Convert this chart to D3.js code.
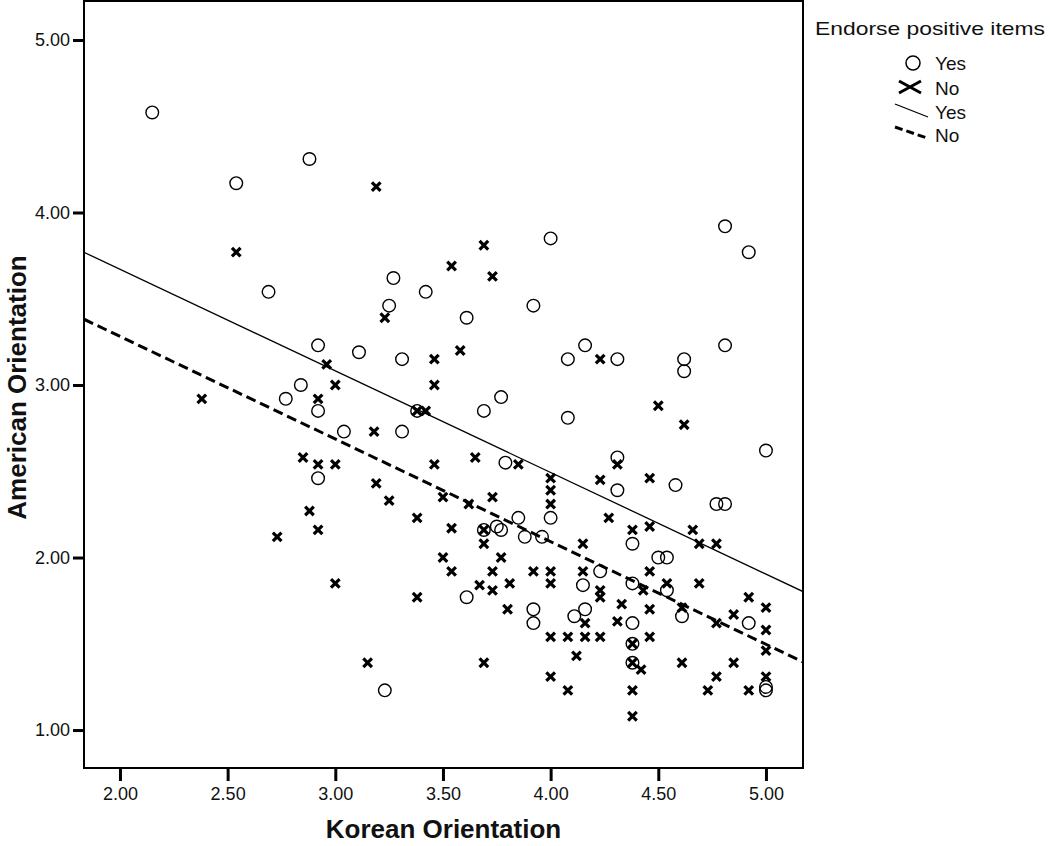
<!DOCTYPE html>
<html>
<head>
<meta charset="utf-8">
<script src="https://cdn.jsdelivr.net/npm/d3@7"></script>
<style>
  html, body { margin: 0; padding: 0; background: #fff; }
  svg { display: block; font-family: "Liberation Sans", Arial, Helvetica, sans-serif; }
</style>
</head>
<body>
<svg id="chart" width="1050" height="846"></svg>
<script>
// ---- Data ----
const yesKorean = [2.15,2.54,2.88,3.27,2.69,4.00,3.42,4.81,4.92,3.25,2.92,3.11,3.31,2.84,2.77,2.92,3.38,3.04,3.31,2.92,3.23,
  3.92,3.61,4.08,4.16,4.31,4.62,4.62,4.81,5.00,3.69,3.77,4.08,3.79,4.00,4.31,4.31,4.58,4.77,4.81,3.85,3.69,3.75,3.77,3.88,3.96,
  4.38,4.50,4.54,4.23,3.61,4.15,4.38,4.54,3.92,3.92,4.11,4.16,4.38,4.61,4.92,4.38,4.38,5.00,5.00];
const yesAmerican = [4.58,4.17,4.31,3.62,3.54,3.85,3.54,3.92,3.77,3.46,3.23,3.19,3.15,3.00,2.92,2.85,2.85,2.73,2.73,2.46,1.23,
  3.46,3.39,3.15,3.23,3.15,3.15,3.08,3.23,2.62,2.85,2.93,2.81,2.55,2.23,2.58,2.39,2.42,2.31,2.31,2.23,2.16,2.18,2.16,2.12,2.12,
  2.08,2.00,2.00,1.92,1.77,1.84,1.85,1.81,1.70,1.62,1.66,1.70,1.62,1.66,1.62,1.50,1.39,1.25,1.23];

const noKorean = [3.19,2.54,3.69,3.54,3.73,3.23,2.96,3.00,2.92,2.38,3.18,2.85,2.92,3.00,3.19,3.25,3.38,2.88,2.92,2.73,3.00,3.38,3.15,
  3.46,3.58,3.46,4.23,4.50,4.62,3.42,3.38,3.46,3.65,3.85,4.00,4.00,4.00,4.31,4.23,4.46,4.27,4.38,4.46,4.66,3.54,3.50,3.62,3.73,3.69,
  4.69,4.77,3.69,4.15,3.50,3.77,3.54,3.73,3.92,4.00,4.15,4.46,3.67,3.73,3.81,4.00,4.23,4.23,4.43,4.54,4.69,
  3.80,4.16,4.33,4.31,4.46,4.61,4.77,4.85,4.92,5.00,5.00,5.00,4.00,4.08,4.16,4.23,4.46,4.38,4.38,4.42,3.69,4.12,4.00,4.08,4.38,4.38,
  4.61,4.85,4.77,4.73,4.92,5.00];
const noAmerican = [4.15,3.77,3.81,3.69,3.63,3.39,3.12,3.00,2.92,2.92,2.73,2.58,2.54,2.54,2.43,2.33,2.23,2.27,2.16,2.12,1.85,1.77,1.39,
  3.15,3.20,3.00,3.15,2.88,2.77,2.85,2.85,2.54,2.58,2.54,2.46,2.39,2.31,2.54,2.45,2.46,2.23,2.16,2.18,2.16,2.17,2.35,2.31,2.35,2.16,
  2.08,2.08,2.08,2.08,2.00,2.00,1.92,1.92,1.92,1.92,1.92,1.92,1.84,1.81,1.85,1.85,1.81,1.77,1.81,1.85,1.85,
  1.70,1.62,1.73,1.63,1.70,1.71,1.62,1.67,1.77,1.71,1.58,1.46,1.54,1.54,1.54,1.54,1.54,1.50,1.39,1.35,1.39,1.43,1.31,1.23,1.23,1.08,
  1.39,1.39,1.31,1.23,1.23,1.31];

// Fit lines (Yes = solid, No = dashed): intercept and slope
const fitGroups = ["Yes", "No"];
const fitIntercepts = [4.849, 4.472];
const fitSlopes = [-0.589, -0.595];

const xTicks = [2.0, 2.5, 3.0, 3.5, 4.0, 4.5, 5.0];
const yTicks = [1, 2, 3, 4, 5];
const xDomain = [1.833, 5.172];
const yDomain = [0.78, 5.226];

const legendTitle = "Endorse positive items";
const legendLabels = ["Yes", "No", "Yes", "No"];

// ---- Layout ----
const svg = d3.select("#chart");
const plot = { left: 84, top: 1, right: 803, bottom: 768 };

const x = d3.scaleLinear().domain(xDomain).range([plot.left, plot.right]);
const y = d3.scaleLinear().domain(yDomain).range([plot.bottom, plot.top]);

svg.append("defs").append("clipPath").attr("id", "clip")
  .append("rect").attr("x", plot.left).attr("y", plot.top)
  .attr("width", plot.right - plot.left).attr("height", plot.bottom - plot.top);

// Axes
const yAxis = d3.axisLeft(y).tickValues(yTicks).tickFormat(d3.format(".2f")).tickSize(11).tickPadding(3);
const gy = svg.append("g").attr("transform", `translate(${plot.left},0)`).call(yAxis);
const xAxis = d3.axisBottom(x).tickValues(xTicks).tickFormat(d3.format(".2f")).tickSize(13).tickPadding(6);
const gx = svg.append("g").attr("transform", `translate(0,${plot.bottom})`).call(xAxis);
[gx, gy].forEach(g => {
  g.select(".domain").remove();
  g.selectAll(".tick line").attr("stroke", "#000").attr("stroke-width", 3);
  g.selectAll(".tick text").attr("fill", "#111").style("font-size", "18px")
    .style("font-family", '"Liberation Sans", Arial, sans-serif');
});

// Frame
svg.append("rect")
  .attr("x", plot.left).attr("y", plot.top)
  .attr("width", plot.right - plot.left).attr("height", plot.bottom - plot.top)
  .attr("fill", "none").attr("stroke", "#000").attr("stroke-width", 2);

// Fit lines
const gLines = svg.append("g").attr("clip-path", "url(#clip)");
fitGroups.forEach((grp, i) => {
  const pts = xDomain.map(k => [k, fitIntercepts[i] + fitSlopes[i] * k]);
  gLines.append("path")
    .attr("d", d3.line().x(d => x(d[0])).y(d => y(d[1]))(pts))
    .attr("fill", "none").attr("stroke", "#000")
    .attr("stroke-width", grp === "Yes" ? 1.3 : 3)
    .attr("stroke-dasharray", grp === "Yes" ? null : "10,5");
});

// Points
const gPts = svg.append("g").attr("clip-path", "url(#clip)");
const yesData = yesKorean.map((k, i) => ({ k, a: yesAmerican[i] }));
const noData = noKorean.map((k, i) => ({ k, a: noAmerican[i] }));

gPts.selectAll("circle.yes").data(yesData).enter().append("circle")
  .attr("class", "yes")
  .attr("cx", d => x(d.k)).attr("cy", d => y(d.a)).attr("r", 6.3)
  .attr("fill", "none").attr("stroke", "#000").attr("stroke-width", 1.4);

const cross = "M-4.3,-4.3L4.3,4.3M-4.3,4.3L4.3,-4.3";
gPts.selectAll("path.no").data(noData).enter().append("path")
  .attr("class", "no")
  .attr("transform", d => `translate(${x(d.k)},${y(d.a)})`)
  .attr("d", cross)
  .attr("fill", "none").attr("stroke", "#000").attr("stroke-width", 3.2);

// Axis titles
svg.append("text")
  .attr("x", (plot.left + plot.right) / 2).attr("y", 838)
  .attr("text-anchor", "middle")
  .style("font-size", "26px").style("font-weight", "bold").attr("fill", "#111")
  .text("Korean Orientation");

svg.append("text")
  .attr("transform", `translate(26,${(plot.top + plot.bottom) / 2 + 3}) rotate(-90)`)
  .attr("text-anchor", "middle")
  .style("font-size", "26px").style("font-weight", "bold").attr("fill", "#111")
  .text("American Orientation");

// Legend
const lg = svg.append("g");
lg.append("text").attr("x", 815).attr("y", 35)
  .style("font-size", "19px").attr("fill", "#111")
  .attr("textLength", 230).attr("lengthAdjust", "spacingAndGlyphs")
  .text(legendTitle);

const lblX = 935;
const rowY = [70, 95, 119, 142];
lg.append("circle").attr("cx", 913).attr("cy", 63).attr("r", 7)
  .attr("fill", "none").attr("stroke", "#000").attr("stroke-width", 1.5);
lg.append("path").attr("transform", "translate(910,87)")
  .attr("d", "M-11,-6L11,6M-11,6L11,-6")
  .attr("fill", "none").attr("stroke", "#000").attr("stroke-width", 3);
lg.append("line").attr("x1", 895).attr("y1", 104).attr("x2", 928).attr("y2", 117)
  .attr("stroke", "#000").attr("stroke-width", 1.3);
lg.append("line").attr("x1", 895).attr("y1", 127).attr("x2", 927).attr("y2", 138)
  .attr("stroke", "#000").attr("stroke-width", 3).attr("stroke-dasharray", "8,4");

legendLabels.forEach((t, i) => {
  lg.append("text").attr("x", lblX).attr("y", rowY[i])
    .style("font-size", "19px").attr("fill", "#111")
    .text(t);
});
</script>
</body>
</html>
